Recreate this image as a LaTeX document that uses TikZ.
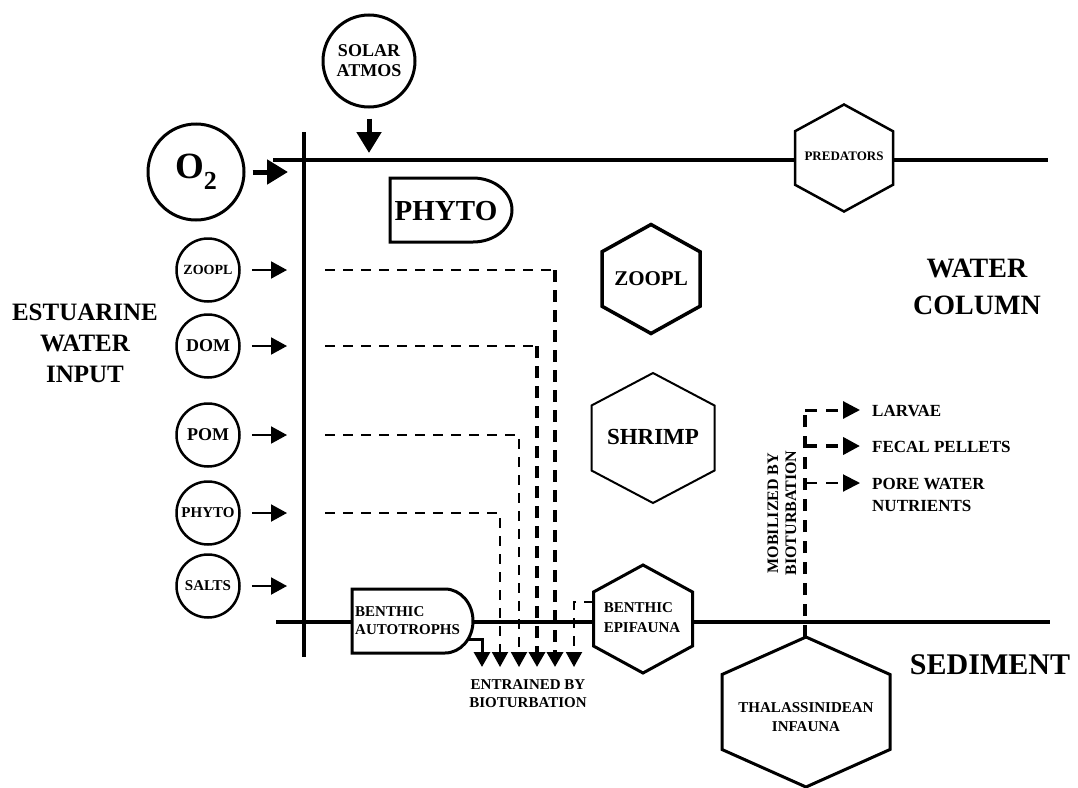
\documentclass[tikz,border=0pt]{standalone}
\usepackage{fontspec}
\setmainfont{Liberation Serif}
\usetikzlibrary{arrows.meta}
\newcommand\fsz[2]{\fontsize{#1}{#2}\selectfont\bfseries}
\tikzset{
  pics/hexa/.style n args={2}{code={\draw[pic actions] (0,-#2/2) -- (#1/2,-#2/4) -- (#1/2,#2/4) -- (0,#2/2) -- (-#1/2,#2/4) -- (-#1/2,-#2/4) -- cycle;}},
  mainline/.style={line width=3.5pt},
  circ/.style={circle, draw, line width=3pt, fill=white, inner sep=0pt, align=center},
  scirc/.style={circle, draw, line width=2.5pt, inner sep=0pt, minimum size=63pt, align=center},
  txt/.style={inner sep=0pt, align=center},
  inarr/.style={line width=2pt, -{Triangle[length=16pt,width=17pt]}},
  bigarr/.style={line width=5pt, -{Triangle[length=21pt,width=24pt]}},
  thindash/.style={line width=2pt, dash pattern=on 10pt off 8pt},
  thickdash/.style={line width=3.5pt, dash pattern=on 12pt off 8pt},
  entr/.style={-{Triangle[length=15pt,width=16pt]}},
  mobdash/.style={dash pattern=on 12pt off 9pt},
  mobarr/.style={-{Triangle[length=17pt,width=17pt]}},
  shapeline/.style={line width=3pt, fill=white}
}
\begin{document}
\begin{tikzpicture}[x=1pt,y=-1pt]
\useasboundingbox (0,0) rectangle (1078,787);

% main lines
\coordinate (tl) at (273,160); \coordinate (tr) at (1048,160);
\coordinate (vt) at (304,132); \coordinate (vb) at (304,657);
\coordinate (bl) at (276,622); \coordinate (br) at (1050,622);
\draw[mainline] (tl) -- (tr);
\draw[mainline] (vt) -- (vb);
\draw[mainline] (bl) -- (br);

% solar and O2
\node[circ, minimum size=92pt, font=\fsz{18}{20}] (solar) at (369,61) {SOLAR\\ATMOS};
\draw[bigarr, shorten <=10pt, shorten >=7pt] (solar) -- (solar |- tl);
\node[circ, minimum size=96pt] (o2) at (196,172) {\fsz{37}{37}O\raisebox{-0.3em}{\fsz{26}{26}2}};
\draw[bigarr, shorten <=7pt, shorten >=16pt] (o2) -- (o2 -| vt);

% estuarine inputs
\node[scirc, font=\fsz{14}{14}] (zin) at (208,270) {ZOOPL};
\node[scirc, font=\fsz{18}{18}] (din) at (208,346) {DOM};
\node[scirc, font=\fsz{18}{18}] (pin) at (208,435) {POM};
\node[scirc, font=\fsz{15}{15}] (hin) at (208,513) {PHYTO};
\node[scirc, font=\fsz{15}{15}] (sin) at (208,586) {SALTS};
\draw[inarr, shorten <=11pt, shorten >=17pt] (zin) -- (zin -| vt);
\draw[inarr, shorten <=11pt, shorten >=17pt] (din) -- (din -| vt);
\draw[inarr, shorten <=11pt, shorten >=17pt] (pin) -- (pin -| vt);
\draw[inarr, shorten <=11pt, shorten >=17pt] (hin) -- (hin -| vt);
\draw[inarr, shorten <=11pt, shorten >=17pt] (sin) -- (sin -| vt);

\node[txt, font=\fsz{25}{31}] (est) at (85,343) {ESTUARINE\\WATER\\INPUT};

% entrainment dashed lines
\coordinate (zs) at (325,270); \coordinate (ze) at (555,667);
\coordinate (ds) at (325,346); \coordinate (de) at (537,667);
\coordinate (ps) at (325,435); \coordinate (pe) at (519,667);
\coordinate (hs) at (325,513); \coordinate (he) at (500,667);
\draw[thindash] (zs) -- (zs -| ze);
\draw[thickdash, entr] (zs -| ze) -- (ze);
\draw[thindash] (ds) -- (ds -| de);
\draw[thickdash, entr] (ds -| de) -- (de);
\draw[thindash, entr] (ps) -- (ps -| pe) -- (pe);
\draw[thindash, entr] (hs) -- (hs -| he) -- (he);

% top phyto
\draw[shapeline] (390,178) -- (473,178) arc[start angle=90, end angle=-90, x radius=39pt, y radius=32pt] -- (390,242) -- cycle;
\node[txt, font=\fsz{29}{29}] (phyto) at (446,211) {PHYTO};

% benthic autotrophs
\draw[shapeline] (352,589) -- (445,589) arc[start angle=90, end angle=-90, x radius=28pt, y radius=32pt] -- (352,653) -- cycle;
\node[txt, anchor=west, align=left, font=\fsz{15}{18}] (auto) at (355,621) {BENTHIC\\AUTOTROPHS};
\coordinate (ao) at (468,639); \coordinate (ae) at (482,667);
\draw[line width=3pt, entr] (ao) -- (ao -| ae) -- (ae);

% benthic epifauna
\pic[line width=3pt, fill=white] at (643,619) {hexa={99}{108}};
\node[txt, align=left, font=\fsz{15}{20}] (epi) at (642,618) {BENTHIC\\EPIFAUNA};
\coordinate (es) at (594,602); \coordinate (ee) at (574,667);
\draw[thindash, entr] (es) -- (es -| ee) -- (ee);

\node[txt, font=\fsz{15}{18}] (ent) at (528,694) {ENTRAINED BY\\BIOTURBATION};

% water column hexagons
\pic[line width=3.5pt, fill=white] at (651,279) {hexa={98}{109}};
\node[txt, font=\fsz{21}{21}] (zoo) at (651,279) {ZOOPL};
\pic[line width=2pt, fill=white] at (653,438) {hexa={123}{130}};
\node[txt, font=\fsz{23}{23}] (shrimp) at (653,437) {SHRIMP};
\pic[line width=2.5pt, fill=white] at (844,158) {hexa={98}{107}};
\node[txt, font=\fsz{13}{13}] (pred) at (844,156) {PREDATORS};

\node[txt, font=\fsz{28}{37}] (wc) at (977,287) {WATER\\COLUMN};
\node[txt, font=\fsz{30}{30}] (sed) at (990,665) {SEDIMENT};

% thalassinidean infauna
\pic[line width=3pt, fill=white] at (806,712) {hexa={168}{150}};
\node[txt, font=\fsz{15}{19}] (thal) at (806,717) {THALASSINIDEAN\\INFAUNA};

% mobilized
\coordinate (mt) at (805,637);
\coordinate (m1) at (805,410); \coordinate (m2) at (805,446); \coordinate (m3) at (805,483);
\node[txt, anchor=base west, font=\fsz{17}{22}] (larvae) at (872,416) {LARVAE};
\node[txt, anchor=base west, font=\fsz{17}{22}] (fecal) at (872,452) {FECAL PELLETS};
\node[txt, anchor=base west, align=left, font=\fsz{17}{22}] (pore) at (872,511) {PORE WATER\\NUTRIENTS};
\draw[mobdash, line width=3.5pt] (mt) -- (m1);
\draw[mobdash, line width=3pt, mobarr, shorten >=12pt] (m1) -- (m1 -| larvae.west);
\draw[mobdash, line width=4pt, mobarr, shorten >=12pt] (m2) -- (m2 -| fecal.west);
\draw[mobdash, line width=2pt, mobarr, shorten >=12pt] (m3) -- (m3 -| pore.west);
\node[txt, rotate=90, font=\fsz{16}{18}] (mob) at (782,513) {MOBILIZED BY\\BIOTURBATION};

\end{tikzpicture}
\end{document}
